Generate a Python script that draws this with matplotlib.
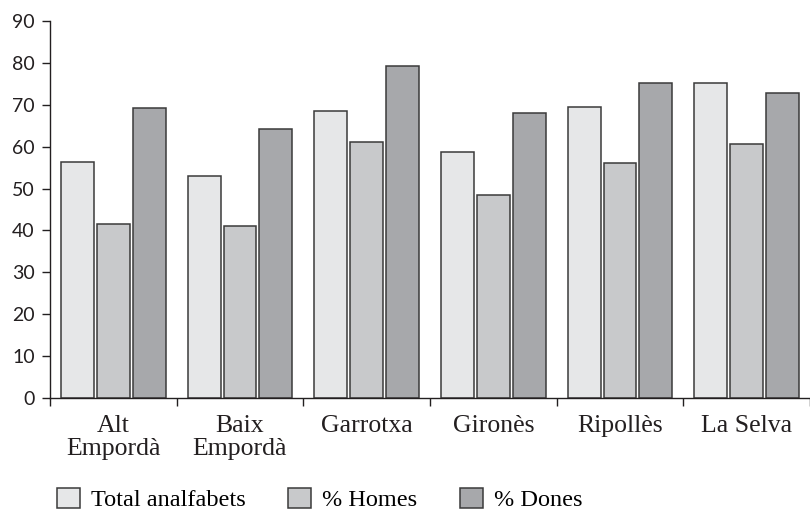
import numpy as np
import matplotlib
matplotlib.use("Agg")
import matplotlib.pyplot as plt
from matplotlib.patches import Patch

# data
comarques = ["Alt\nEmpordà", "Baix\nEmpordà", "Garrotxa", "Gironès", "Ripollès", "La Selva"]
total_analfabets = [56.3, 53.0, 68.4, 58.8, 69.5, 75.1]
pct_homes = [41.6, 41.1, 61.2, 48.5, 56.0, 60.7]
pct_dones = [69.2, 64.1, 79.2, 68.1, 75.1, 72.9]
series_names = ["Total analfabets", "% Homes", "% Dones"]
y_ticks = [0, 10, 20, 30, 40, 50, 60, 70, 80, 90]

colors = ["#e6e7e8", "#c8c9cb", "#a7a8ab"]
edge = "#3a3a3a"
ink = "#231f20"
serif = "Liberation Serif"

fig = plt.figure(figsize=(8.1, 5.11), dpi=100)
ax = fig.add_axes([50/810, 1-398/511, 760/810, 377/511])

x = np.arange(len(comarques)) + 0.5
w = 0.26
step = 0.283
for k, vals in enumerate([total_analfabets, pct_homes, pct_dones]):
    ax.bar(x + (k-1)*step, vals, width=w, color=colors[k], edgecolor=edge,
           linewidth=1.1, label=series_names[k])

ax.set_xlim(0, len(comarques))
ax.set_ylim(0, 90)
for s in ["top", "right"]:
    ax.spines[s].set_visible(False)
for s in ["left", "bottom"]:
    ax.spines[s].set_linewidth(1.0)
    ax.spines[s].set_color(ink)

ax.set_yticks(y_ticks)
ax.set_yticklabels([str(v) for v in y_ticks], family="Lato", fontsize=14, color=ink)
ax.tick_params(axis="y", direction="out", length=6, width=1.0, pad=5, color=ink)

ax.set_xticks(np.arange(len(comarques)+1))
ax.set_xticklabels([])
ax.tick_params(axis="x", which="major", direction="out", length=6, width=1.0, color=ink)

# noms de comarca, cada línia alineada per la base
line_y = [-34/377, -57/377]
for xi, lab in zip(x, comarques):
    for j, line in enumerate(lab.split("\n")):
        ax.text(xi, line_y[j], line, transform=ax.get_xaxis_transform(),
                ha="center", va="baseline", family=serif, fontsize=18.5, color=ink)

handles = [Patch(facecolor=colors[k], edgecolor=edge, linewidth=1.1) for k in range(3)]
fig.legend(handles, series_names, loc="lower left", bbox_to_anchor=(57/810, 0.0),
           ncol=3, frameon=False, prop={"family": serif, "size": 17.5},
           handlelength=0.95, handleheight=0.9, handletextpad=0.45,
           columnspacing=1.75, borderpad=0, borderaxespad=0)

fig.savefig("out.png", dpi=100)
